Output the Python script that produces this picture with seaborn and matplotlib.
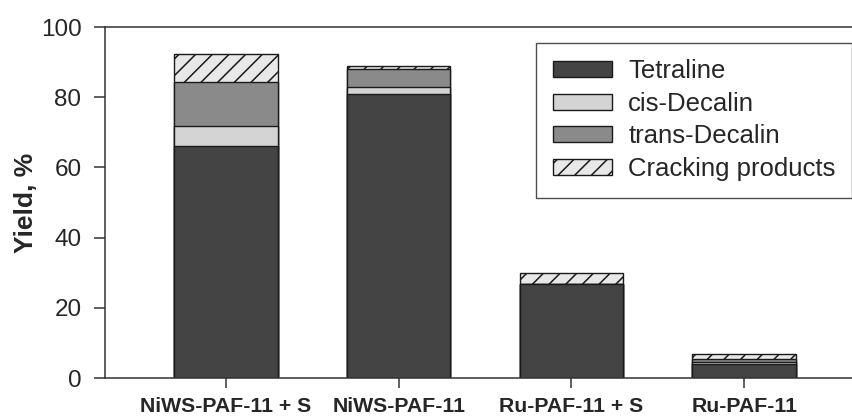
import matplotlib
matplotlib.use("Agg")
import matplotlib.pyplot as plt
from matplotlib.patches import Patch
import seaborn as sns
import pandas as pd
import numpy as np

catalysts = ["NiWS-PAF-11 + S", "NiWS-PAF-11", "Ru-PAF-11 + S", "Ru-PAF-11"]
tetraline = [66.1, 80.9, 26.8, 4.0]
cis_decalin = [5.7, 2.1, 0.0, 0.6]
trans_decalin = [12.6, 4.9, 0.0, 0.7]
cracking = [7.8, 1.1, 3.2, 1.5]

components = ["Tetraline", "cis-Decalin", "trans-Decalin", "Cracking products"]
colors = {"Tetraline": "#444444", "cis-Decalin": "#d4d4d4",
          "trans-Decalin": "#8a8a8a", "Cracking products": "#e8e8e8"}
hatches = {"Tetraline": "", "cis-Decalin": "", "trans-Decalin": "", "Cracking products": "//"}

sns.set_style("ticks")
plt.rcParams["font.family"] = ["Liberation Sans", "DejaVu Sans"]
plt.rcParams["hatch.linewidth"] = 1.1
plt.rcParams["hatch.color"] = "#111111"

series = {"Tetraline": tetraline, "cis-Decalin": cis_decalin,
          "trans-Decalin": trans_decalin, "Cracking products": cracking}
cum = np.cumsum(np.array([series[c] for c in components]), axis=0)

fig = plt.figure(figsize=(8.53, 4.19), dpi=100)
ax = fig.add_axes([105/853, 1-378/419, 1-105/853, (378-27)/419])

# draw from the top of the stack down so lower segments overlay the upper ones
for i in reversed(range(len(components))):
    comp = components[i]
    df = pd.DataFrame({"catalyst": catalysts, "value": cum[i]})
    sns.barplot(data=df, x="catalyst", y="value", ax=ax, color=colors[comp],
                saturation=1, width=0.6, edgecolor="#1a1a1a", linewidth=1.0,
                hatch=hatches[comp], order=catalysts)

ax.set_ylim(0, 100)
ax.set_xlim(-0.70, 3.63)
ax.set_yticks([0, 20, 40, 60, 80, 100])
ax.set_xlabel("")
ax.set_ylabel("Yield, %", fontsize=19, fontweight="bold", labelpad=2)
ax.tick_params(axis="y", labelsize=17.5, length=8, width=1.1, color="#333333", pad=9)
ax.tick_params(axis="x", labelsize=15.3, length=7, width=1.1, color="#333333", pad=7)
for lab in ax.get_xticklabels():
    lab.set_fontweight("bold")

for s in ["left", "bottom", "top"]:
    ax.spines[s].set_color("#333333")
    ax.spines[s].set_linewidth(1.1)
ax.spines["right"].set_visible(False)

handles = [Patch(facecolor=colors[c], edgecolor="#1a1a1a", linewidth=1.0,
                 hatch=hatches[c], label=c) for c in components]
leg = ax.legend(handles=handles, loc="upper right", bbox_to_anchor=(0.999, 0.955),
                fontsize=18.5, frameon=True, fancybox=False, edgecolor="#222222",
                handlelength=2.3, handleheight=0.58, handletextpad=0.62,
                borderpad=0.65, labelspacing=0.33, borderaxespad=0)
leg.get_frame().set_linewidth(1.0)

fig.savefig("out.png", dpi=100)
